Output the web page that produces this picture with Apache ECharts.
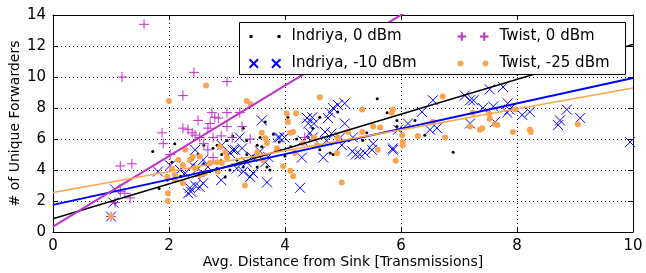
<!DOCTYPE html>
<html>
<head>
<meta charset="utf-8">
<script src="https://cdn.jsdelivr.net/npm/echarts@6/dist/echarts.min.js"></script>
<style>
  html, body { margin: 0; padding: 0; background: #fff; }
  #main { width: 646px; height: 273px; }
</style>
</head>
<body>
<div id="main"></div>
<script>
// [avg distance, unique forwarders]
const indriya0 = [
  [1.0, 1.0], [1.07, 1.87], [1.72, 5.2], [1.83, 2.8], [2.1, 5.7], [2.05, 4.5], [1.97, 3.35],
  [2.76, 5.4], [2.91, 5.0], [3.0, 5.9], [3.34, 5.9], [3.52, 5.6], [3.57, 6.1], [3.34, 5.0],
  [3.17, 4.65], [3.05, 4.0], [2.97, 3.55], [2.83, 4.1], [3.28, 4.2], [3.52, 4.2], [3.69, 4.2],
  [3.66, 7.1], [3.28, 6.7], [4.05, 7.4], [4.6, 7.4], [4.91, 7.75], [5.59, 8.6], [5.76, 7.7],
  [5.93, 7.2], [5.93, 6.8], [5.34, 5.9], [5.41, 6.4], [4.78, 5.1], [4.83, 5.0], [3.74, 4.0],
  [4.48, 6.7], [4.6, 5.3], [6.24, 7.2], [6.41, 6.25], [6.9, 5.15], [2.6, 4.4], [2.7, 3.9],
  [2.4, 4.7], [2.9, 4.6], [3.9, 5.3], [4.1, 5.5], [4.3, 5.7], [4.2, 6.0], [3.8, 6.3], [2.5, 5.0],
  [5.1, 5.9], [2.2, 3.6], [2.6, 5.6], [3.1, 6.2], [3.6, 5.5], [3.9, 5.8], [4.4, 6.1], [4.0, 4.9],
  [3.45, 4.9], [2.83, 5.6]
]
const indriya10 = [
  [1.0, 1.0], [1.04, 1.9], [1.07, 2.75], [1.81, 3.9], [2.02, 4.3], [2.19, 4.0], [2.41, 4.3],
  [2.5, 4.1], [2.67, 4.2], [2.59, 4.65], [2.45, 5.3], [2.33, 2.5], [2.38, 2.6], [2.36, 2.85],
  [2.45, 3.0], [2.53, 2.9], [2.59, 3.15], [2.28, 3.8], [2.9, 3.35], [2.91, 5.6], [3.05, 5.1],
  [3.14, 5.3], [3.26, 5.4], [3.43, 4.85], [3.57, 5.2], [3.66, 4.5], [3.34, 4.5], [3.17, 4.1],
  [3.28, 3.9], [3.4, 3.55], [3.45, 3.8], [3.69, 3.2], [3.71, 4.85], [3.88, 6.1], [3.6, 7.2],
  [3.22, 6.1], [3.1, 5.3], [3.91, 6.1], [3.99, 6.1], [4.26, 2.85], [4.29, 4.8], [4.66, 4.8],
  [4.98, 5.6], [5.16, 5.2], [5.22, 5.0], [5.29, 5.0], [5.38, 5.1], [5.5, 5.3], [5.52, 5.7],
  [5.86, 5.4], [5.17, 6.1], [4.43, 6.4], [4.48, 6.1], [4.69, 6.45], [4.8, 6.35], [4.38, 7.35],
  [4.47, 7.4], [4.74, 7.35], [4.78, 7.7], [4.4, 7.0], [4.5, 7.0], [5.03, 7.0], [4.83, 8.0],
  [4.91, 8.2], [5.03, 8.3], [4.3, 5.9], [4.72, 5.9], [4.95, 6.1], [5.86, 5.3], [5.95, 6.6],
  [6.12, 7.0], [6.36, 7.75], [6.55, 8.5], [6.5, 6.6], [6.62, 6.7], [7.1, 8.8], [7.19, 8.5],
  [7.25, 8.5], [7.19, 7.0], [7.53, 9.2], [7.76, 9.35], [7.41, 8.0], [7.59, 8.1], [7.84, 8.3],
  [7.87, 7.9], [7.62, 7.1], [7.83, 7.7], [8.09, 7.55], [8.22, 7.75], [8.74, 7.2], [8.71, 6.9],
  [8.86, 7.9], [9.09, 7.35], [9.95, 5.8]
]
const twist0 = [
  [1.0, 1.0], [1.07, 1.9], [1.16, 2.6], [1.24, 2.5], [1.33, 2.2], [1.16, 4.26], [1.36, 4.4],
  [1.19, 10.0], [1.57, 13.4], [1.88, 6.4], [1.9, 5.7], [2.02, 5.0], [2.24, 8.8], [2.43, 10.3],
  [3.0, 9.7], [2.24, 6.7], [2.33, 6.6], [2.4, 6.4], [2.45, 6.25], [2.53, 6.1], [2.6, 5.7],
  [2.67, 5.3], [2.76, 4.8], [2.5, 7.2], [2.67, 6.7], [2.71, 7.0], [2.74, 7.7], [2.79, 7.4],
  [2.85, 7.35], [3.0, 7.7], [3.0, 6.8], [3.09, 6.1], [3.22, 7.7], [3.26, 6.8], [3.4, 6.0],
  [2.76, 6.1], [2.53, 3.6], [4.34, 6.1], [2.9, 6.2]
]
const twist25 = [
  [1.0, 1.0], [1.98, 2.5], [1.98, 2.0], [2.0, 8.45], [2.64, 9.45], [3.34, 8.45], [3.41, 8.25],
  [4.03, 7.65], [4.19, 7.65], [4.05, 7.1], [4.14, 6.45], [4.09, 6.4], [4.6, 8.7], [2.16, 4.65],
  [2.28, 5.3], [2.41, 4.85], [2.05, 4.1], [2.1, 3.7], [2.24, 3.15], [2.62, 3.8], [2.84, 3.9],
  [2.91, 4.45], [3.0, 4.8], [2.88, 5.5], [2.97, 5.15], [3.6, 6.4], [3.66, 6.05], [3.69, 5.75],
  [3.52, 5.15], [3.62, 4.65], [3.86, 5.3], [2.36, 4.65], [2.24, 4.3], [2.53, 4.85], [2.71, 4.45],
  [2.83, 4.5], [2.45, 4.1], [1.97, 3.55], [2.1, 3.35], [2.53, 3.7], [3.31, 3.0], [5.33, 7.9],
  [5.84, 7.7], [5.86, 7.9], [5.52, 6.8], [5.64, 6.75], [5.33, 6.45], [5.09, 6.45], [4.91, 6.1],
  [4.31, 5.75], [4.5, 6.1], [4.55, 5.6], [4.17, 5.1], [3.86, 5.4], [4.9, 5.1], [5.6, 5.3],
  [3.97, 4.25], [4.09, 3.95], [4.14, 3.6], [4.98, 3.2], [5.91, 4.6], [6.72, 8.75], [6.55, 7.1],
  [6.02, 6.25], [6.03, 5.8], [6.03, 5.6], [6.29, 6.2], [6.76, 6.1], [7.24, 7.7], [7.19, 6.8],
  [7.36, 6.6], [7.52, 7.65], [7.53, 7.3], [7.66, 6.9], [7.93, 6.45], [7.4, 6.7], [7.62, 6.95],
  [8.22, 6.6], [8.24, 6.45], [9.05, 6.95], [7.97, 7.9]
]

// least-squares fit lines, endpoints
const fitIndriya0 = [[0, 0.85], [10, 12.1]]
const fitIndriya10 = [[0, 1.75], [10, 9.94]]
const fitTwist0 = [[0, 0.35], [10, 23.1]]
const fitTwist25 = [[0, 2.55], [10, 9.29]]

const xTicks = [0, 10, 2]
const yTicks = [0, 14, 2]

const FONT = 'DejaVu Sans'
const C_BLACK = '#000000'
const C_BLUE = '#0000ff'
const C_MAGENTA = '#c030cc'
const C_ORANGE = '#fba44f'

// legend icons show two markers, like the original legend
const ICON_DOT = 'path://M0,3.5h3v3h-3zM28,3.5h3v3h-3z'
const ICON_X = 'path://M1,1L9,9M9,1L1,9M22,1L30,9M30,1L22,9'
const ICON_PLUS = 'path://M5,1V9M1,5H9M26,1V9M22,5H30'
const ICON_CIRCLE = 'path://M0,5a3,3 0 1,0 6,0a3,3 0 1,0 -6,0ZM25,5a3,3 0 1,0 6,0a3,3 0 1,0 -6,0ZM0,0h0.01v10h-0.01z'

function mainAxis(pos, range) {
  return {
    type: 'value',
    position: pos,
    min: range[0],
    max: range[1],
    interval: range[2],
    axisLine: { show: true, onZero: false, lineStyle: { color: C_BLACK, width: 1 } },
    axisTick: { show: true, inside: true, length: 5, lineStyle: { color: C_BLACK } },
    axisLabel: { color: C_BLACK, fontFamily: FONT, fontSize: 15, margin: 7 },
    splitLine: { show: true, lineStyle: { color: C_BLACK, width: 1, type: [1, 3] } },
  }
}

function mirrorAxis(pos, range) {
  return {
    type: 'value',
    position: pos,
    min: range[0],
    max: range[1],
    interval: range[2],
    axisLine: { show: true, onZero: false, lineStyle: { color: C_BLACK, width: 1 } },
    axisTick: { show: true, inside: true, length: 5, lineStyle: { color: C_BLACK } },
    axisLabel: { show: false },
    splitLine: { show: false },
  }
}

const x0 = mainAxis('bottom', xTicks)
x0.name = 'Avg. Distance from Sink [Transmissions]'
x0.nameLocation = 'middle'
x0.nameGap = 23
x0.nameMoveOverlap = false
x0.nameTextStyle = { color: C_BLACK, fontFamily: FONT, fontSize: 14 }

const y0 = mainAxis('left', yTicks)
y0.name = '# of Unique Forwarders'
y0.nameLocation = 'middle'
y0.nameGap = 31
y0.nameMoveOverlap = false
y0.nameTextStyle = { color: C_BLACK, fontFamily: FONT, fontSize: 14 }

function fitLine(name, data, color, width) {
  return {
    name: name,
    type: 'line',
    data: data,
    symbol: 'none',
    clip: true,
    silent: true,
    z: 5,
    lineStyle: { color: color, width: width },
  }
}

const legendBase = {
  orient: 'vertical', top: 29, padding: 0, z: 21,
  itemWidth: 31, itemHeight: 10, itemGap: 12,
  textStyle: { color: C_BLACK, fontFamily: FONT, fontSize: 15, padding: [0, 0, 0, 6] },
}

const chart = echarts.init(document.getElementById('main'), null, { renderer: 'canvas' })
chart.setOption({
  animation: false,
  grid: { left: 53, right: 13, top: 15, bottom: 41, containLabel: false, outerBoundsMode: 'none' },
  xAxis: [x0, mirrorAxis('top', xTicks)],
  yAxis: [y0, mirrorAxis('right', yTicks)],
  legend: [
    Object.assign({}, legendBase, {
      left: 247,
      data: [
        { name: 'Indriya, 0 dBm', icon: ICON_DOT },
        { name: 'Indriya, -10 dBm', icon: ICON_X },
      ],
    }),
    Object.assign({}, legendBase, {
      left: 455,
      data: [
        { name: 'Twist, 0 dBm', icon: ICON_PLUS },
        { name: 'Twist, -25 dBm', icon: ICON_CIRCLE },
      ],
    }),
  ],
  graphic: [
    {
      type: 'rect', left: 239, top: 22, z: 20,
      shape: { width: 386, height: 52 },
      style: { fill: '#fff', stroke: C_BLACK, lineWidth: 1 },
    },
  ],
  series: [
    {
      name: 'Indriya, 0 dBm', type: 'scatter', data: indriya0,
      symbol: 'circle', symbolSize: 3, z: 2,
      itemStyle: { color: C_BLACK, opacity: 1 },
    },
    {
      name: 'Indriya, -10 dBm', type: 'scatter', data: indriya10,
      symbol: 'path://M0,0L10,10M10,0L0,10', symbolSize: 10, z: 2,
      itemStyle: { color: 'none', borderColor: C_BLUE, borderWidth: 1, opacity: 1 },
    },
    {
      name: 'Twist, 0 dBm', type: 'scatter', data: twist0,
      symbol: 'path://M5,0V10M0,5H10', symbolSize: 10, z: 2,
      itemStyle: { color: 'none', borderColor: C_MAGENTA, borderWidth: 1, opacity: 1 },
    },
    {
      name: 'Twist, -25 dBm', type: 'scatter', data: twist25,
      symbol: 'circle', symbolSize: 6, z: 3,
      itemStyle: { color: C_ORANGE, opacity: 1 },
    },
    fitLine('fit0', fitIndriya0, C_BLACK, 1.5),
    fitLine('fit1', fitIndriya10, C_BLUE, 2),
    fitLine('fit2', fitTwist0, C_MAGENTA, 2),
    fitLine('fit3', fitTwist25, C_ORANGE, 1.5),
  ],
})
</script>
</body>
</html>
